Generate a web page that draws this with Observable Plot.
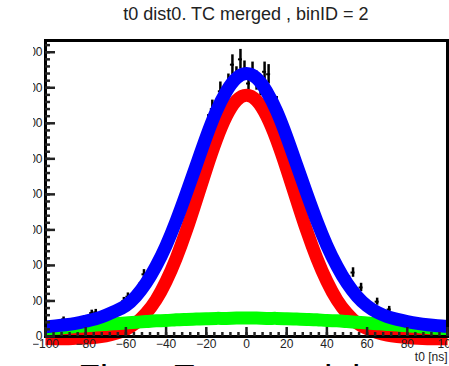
<!DOCTYPE html>
<html><head><meta charset="utf-8">
<script src="https://cdn.jsdelivr.net/npm/d3@7"></script>
<script src="https://cdn.jsdelivr.net/npm/@observablehq/plot@0.6"></script>
<style>
body{margin:0;background:#fff;overflow:hidden}
#wrap{position:relative;width:449px;height:366px;overflow:hidden;background:#fff;font-family:"Liberation Sans",Arial,sans-serif}
#clip{position:absolute;left:33px;top:0;width:416px;height:366px;overflow:hidden}
#chart{position:absolute;left:-33px;top:0}
#title{position:absolute;left:45px;width:402px;top:5px;text-align:center;font-size:18px;line-height:18px;color:#222;white-space:nowrap}
#bottom{position:absolute;left:78px;top:361px;text-align:left;font-size:36px;line-height:36px;color:#000;white-space:nowrap;word-spacing:7px}
</style></head>
<body>
<div id="wrap">
  <div id="clip"><div id="chart"></div></div>
  <div id="title">t0 dist0. TC merged , binID = 2</div>
  <div id="bottom">Fit – Exponential</div>
</div>
<script>
// histogram bin centers (2 ns bins) and counts
const binCenters = d3.range(-99, 100, 2);
const counts = [30,25,34,28,48,31,40,35,44,38,
  47,66,68,50,60,58,72,70,84,100,
  112,95,115,140,175,168,182,210,222,236,
  280,290,340,350,392,430,445,500,520,560,
  600,640,628,690,670,712,765,732,780,748,
  712,745,720,704,745,738,662,650,600,590,
  545,520,478,455,410,395,350,320,300,262,
  256,225,192,186,165,158,180,122,138,88,
  85,70,98,60,62,76,48,50,44,46,
  40,42,35,37,32,35,30,32,28,30];

// fit curves sampled every 5 ns
const curveT = [-100,-95,-90,-85,-80,-75,-70,-65,-60,-55,-50,-45,-40,-35,-30,-25,-20,-15,-10,-5,0,5,10,15,20,25,30,35,40,45,50,55,60,65,70,75,80,85,90,95,100];
const redFit = [-6,-6,-6,-5,-4,-2,2,9,20,38,65,103,155,220,297,383,471,553,620,664,679,664,620,553,471,383,297,220,155,103,65,38,22,11,4,0,-3,-5,-6,-6,-6];
const greenFit = [20,23,25,28,30,32,34,36,38,40,42,44,45,47,48,49,50,51,51,52,52,52,51,51,50,49,48,47,45,44,42,40,38,36,34,32,30,28,25,23,20];
const blueFit = [27,30,33,37,43,50,60,72,87,113,150,198,256,325,402,482,562,634,690,727,740,727,690,634,562,482,402,325,256,198,150,113,86,68,56,48,42,37,33,30,28];

const yMajor = [0,100,200,300,400,500,600,700,800];
const yMinor = d3.range(0, 834, 20);
const xMajor = [-100,-80,-60,-40,-20,0,20,40,60,80,100];
const xMinor = d3.range(-100, 101, 4);
const xTitle = ["t0 [ns]"];

const bins = binCenters.map((t, i) => ({t, n: counts[i]}));
const mk = arr => curveT.map((t, i) => ({t, v: arr[i]}));
const lineOpts = {x: "t", y: "v", strokeWidth: 13, curve: "natural", strokeLinejoin: "round", strokeLinecap: "butt"};

const plot = Plot.plot({
  width: 449, height: 366,
  marginLeft: 45, marginRight: 2, marginTop: 40, marginBottom: 30,
  style: {fontFamily: '"Liberation Sans", Arial, sans-serif', fontSize: "12px", color: "#222", background: "transparent", overflow: "visible"},
  x: {domain: [-100, 100], label: null},
  y: {domain: [0, 833], label: null},
  marks: [
    Plot.ruleX(bins, {x: "t", y1: d => d.n - Math.sqrt(d.n), y2: d => d.n + Math.sqrt(d.n), stroke: "black", strokeWidth: 2.5}),
    Plot.ruleY(bins, {y: "n", x1: d => d.t - 1, x2: d => d.t + 1, stroke: "black", strokeWidth: 2}),
    Plot.line(mk(redFit), {...lineOpts, stroke: "#ff0000"}),
    Plot.line(mk(greenFit), {...lineOpts, stroke: "#00ff00"}),
    Plot.line(mk(blueFit), {...lineOpts, stroke: "#0000ff"}),
    Plot.frame({stroke: "black", strokeWidth: 3}),
    Plot.axisY(yMajor, {tickSize: -10, text: null, strokeWidth: 2.5, label: null}),
    Plot.axisY(yMinor, {tickSize: -5, text: null, strokeWidth: 2.5, label: null}),
    Plot.axisY(yMajor, {tickSize: 0, tickPadding: 3, label: null}),
    Plot.axisX(xMajor, {tickSize: -9, text: null, strokeWidth: 2.5, label: null}),
    Plot.axisX(xMinor, {tickSize: -4, text: null, strokeWidth: 2.5, label: null}),
    Plot.axisX(xMajor, {tickSize: 0, tickPadding: 3, label: null}),
    Plot.text(xTitle, {text: d => d, frameAnchor: "bottom-right", textAnchor: "end", lineAnchor: "middle", dy: 21, fill: "#222"})
  ]
});
document.getElementById("chart").appendChild(plot);
</script>
</body></html>
